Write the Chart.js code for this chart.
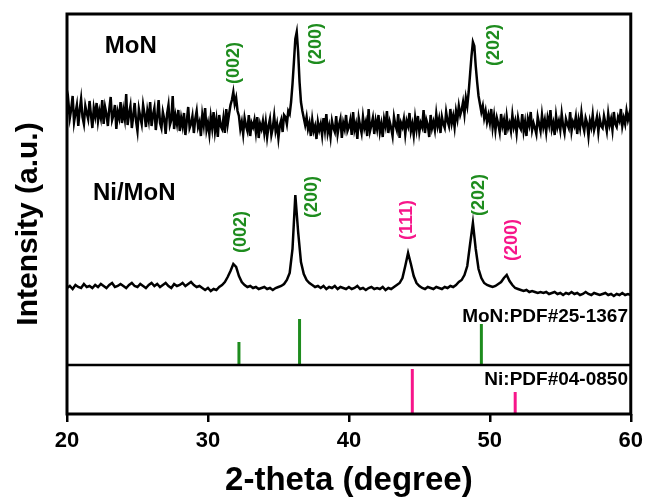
<!DOCTYPE html>
<html>
<head>
<meta charset="utf-8">
<script src="https://cdn.jsdelivr.net/npm/chart.js@4.4.1/dist/chart.umd.min.js"></script>
<style>
  html, body { margin: 0; padding: 0; background: #ffffff; }
  #wrap { width: 649px; height: 503px; }
</style>
</head>
<body>
<div id="wrap"><canvas id="xrd" width="649" height="503"></canvas></div>
<script>
// ---- data (intensity in arbitrary units) ----
const xTicks = [20, 30, 40, 50, 60];

// MoN pattern, 20.0 .. 60.0 deg, 0.1 deg steps
const monStart = 20, monStep = 0.1;
const monIntensity = [
  300, 312, 296, 305, 318, 292, 301, 309, 288, 304, 315, 297, 290, 308, 301, 295, 313, 299, 286, 306,
  298, 311, 293, 303, 296, 314, 290, 307, 300, 288, 305, 317, 294, 299, 309, 285, 302, 296, 312, 291,
  304, 295, 320, 289, 300, 308, 286, 298, 311, 293, 283, 305, 297, 290, 309, 300, 287, 303, 294, 312,
  288, 299, 306, 284, 297, 314, 291, 286, 302, 295, 280, 300, 309, 289, 294, 318, 285, 298, 290, 304,
  283, 296, 288, 301, 279, 293, 307, 286, 290, 298, 281, 295, 303, 287, 292, 278, 299, 289, 306, 284,
  291, 280, 297, 286, 302, 283, 294, 277, 299, 288, 285, 296, 281, 305, 290, 300, 309, 314, 322, 310,
  316, 303, 298, 285, 292, 280, 296, 288, 283, 299, 278, 291, 287, 294, 282, 297, 276, 290, 285, 293,
  281, 292, 277, 288, 295, 279, 286, 298, 283, 290, 276, 289, 294, 282, 299, 297, 290, 303, 300, 312,
  330, 352, 375, 382, 362, 332, 312, 303, 296, 289, 297, 285, 291, 278, 294, 283, 288, 275, 292, 284,
  290, 279, 296, 284, 300, 281, 288, 277, 293, 286, 282, 298, 280, 289, 295, 276, 291, 285, 299, 283,
  287, 294, 279, 302, 284, 290, 275, 296, 288, 281, 297, 286, 292, 278, 305, 283, 289, 296, 280, 293,
  285, 299, 282, 290, 277, 295, 288, 303, 281, 292, 286, 278, 297, 289, 284, 300, 276, 291, 287, 295,
  280, 293, 288, 301, 283, 290, 279, 296, 285, 298, 282, 291, 287, 304, 281, 294, 289, 277, 299, 286,
  292, 284, 300, 288, 295, 281, 297, 290, 286, 302, 293, 288, 305, 291, 298, 287, 303, 295, 308, 299,
  304, 312, 300, 316, 308, 322, 340, 358, 372, 368, 348, 332, 318, 310, 302, 308, 296, 303, 292, 299,
  291, 305, 287, 298, 284, 296, 290, 282, 300, 288, 294, 279, 297, 286, 291, 283, 299, 287, 293, 281,
  296, 288, 285, 300, 283, 292, 278, 295, 289, 302, 284, 291, 286, 280, 297, 290, 283, 299, 287, 294,
  282, 296, 289, 304, 285, 291, 279, 298, 287, 293, 284, 300, 288, 281, 295, 290, 286, 302, 283, 292,
  288, 297, 280, 294, 286, 301, 289, 283, 296, 291, 278, 293, 287, 299, 284, 290, 297, 282, 295, 288,
  286, 298, 291, 283, 300, 289, 295, 284, 302, 290, 287, 297, 293, 305, 288, 296, 290, 303, 294, 300, 292
];

// Ni/MoN pattern, 20.0 .. 60.0 deg, 0.2 deg steps
const niMonStart = 20, niMonStep = 0.2;
const niMonIntensity = [
  126, 128, 125, 129, 127, 126, 130, 127, 128, 126,
  129, 127, 130, 128, 126, 129, 131, 127, 128, 130,
  128, 126, 129, 131, 128, 127, 130, 128, 126, 129,
  131, 128, 130, 127, 129, 131, 128, 126, 130, 128,
  129, 131, 128, 130, 132, 129, 127, 128, 126, 124,
  126, 123, 125, 124, 127, 129, 132, 137, 143, 150,
  147, 138, 132, 129, 127, 128, 126, 127, 125, 126,
  127, 125, 126, 124, 126, 127, 128, 130, 134, 141,
  165, 219, 182, 152, 140, 134, 131, 129, 127, 128,
  126, 128, 125, 127, 126, 128, 125, 127, 126, 125,
  127, 125, 126, 128, 125, 126, 124, 126, 127, 125,
  126, 125, 127, 124, 126, 125, 127, 129, 131, 136,
  148, 161, 150, 138, 131, 128, 126, 125, 127, 126,
  125, 127, 126, 125, 127, 126, 128, 127, 129, 132,
  134, 139, 148, 170, 191, 165, 145, 136, 131, 129,
  128, 127, 128, 130, 132, 136, 139, 133, 129, 126,
  125, 124, 123, 124, 122, 123, 122, 121, 122, 121,
  122, 120, 121, 122, 120, 121, 119, 121, 120, 122,
  120, 121, 119, 120, 122, 120, 119, 121, 120, 119,
  120, 121, 119, 120, 118, 120, 119, 121, 119, 120, 119
];

// standard cards
const monPdfBase = 49;
const monPdfPos = [32.2, 36.5, 49.4];
const monPdfHeight = [23, 46, 41];
const niPdfBase = 0;
const niPdfPos = [44.5, 51.8];
const niPdfHeight = [45, 22];

const GREEN = '#1e8c1e';
const PINK = '#f7168a';

// peak labels: [text, 2theta, intensity, colour]
const peakLabels = [
  ['(002)', 31.85, 351, GREEN],
  ['(200)', 37.66, 370, GREEN],
  ['(202)', 50.28, 369, GREEN],
  ['(002)', 32.34, 182, GREEN],
  ['(200)', 37.38, 217, GREEN],
  ['(111)', 44.11, 194, PINK],
  ['(202)', 49.22, 219, GREEN],
  ['(200)', 51.56, 174, PINK]
];
const sampleLabels = [
  ['MoN', 22.68, 368],
  ['Ni/MoN', 21.84, 221]
];
const cardLabels = [
  ['MoN:PDF#25-1367', 59.8, 97],
  ['Ni:PDF#04-0850', 59.8, 34]
];

const toPoints = (start, step, arr) => arr.map((v, i) => ({ x: +(start + i * step).toFixed(2), y: v }));
const toSticks = (pos, h, base) => {
  const pts = [];
  pos.forEach((p, i) => {
    pts.push({ x: p, y: base }, { x: p, y: base + h[i] }, { x: p, y: null });
  });
  return pts;
};

const FONT = "'Liberation Sans', Arial, sans-serif";
Chart.defaults.font.family = FONT;
Chart.defaults.color = '#000';

const framePlugin = {
  id: 'frame',
  afterDatasetsDraw(chart) {
    const { ctx, chartArea: a, scales } = chart;
    ctx.save();
    // divider between sample patterns and Ni card
    const yDiv = scales.y.getPixelForValue(monPdfBase);
    ctx.strokeStyle = '#000';
    ctx.lineWidth = 2.5;
    ctx.beginPath();
    ctx.moveTo(a.left, yDiv);
    ctx.lineTo(a.right, yDiv);
    ctx.stroke();
    ctx.lineWidth = 3;
    ctx.strokeRect(a.left, a.top, a.right - a.left, a.bottom - a.top);

    const px = v => scales.x.getPixelForValue(v);
    const py = v => scales.y.getPixelForValue(v);

    ctx.font = 'bold 18px ' + FONT;
    ctx.textAlign = 'center';
    ctx.textBaseline = 'middle';
    peakLabels.forEach(([t, x, y, c]) => {
      ctx.save();
      ctx.translate(px(x), py(y));
      ctx.rotate(-Math.PI / 2);
      ctx.fillStyle = c;
      ctx.fillText(t, 0, 0);
      ctx.restore();
    });

    ctx.fillStyle = '#000';
    ctx.font = 'bold 24px ' + FONT;
    ctx.textAlign = 'left';
    sampleLabels.forEach(([t, x, y]) => ctx.fillText(t, px(x), py(y)));

    ctx.font = 'bold 19px ' + FONT;
    ctx.textAlign = 'right';
    cardLabels.forEach(([t, x, y]) => ctx.fillText(t, px(x), py(y)));

    // y axis title
    ctx.save();
    ctx.translate(29, (a.top + a.bottom) / 2 + 10);
    ctx.rotate(-Math.PI / 2);
    ctx.textAlign = 'center';
    ctx.font = 'bold 30px ' + FONT;
    ctx.fillText('Intensity (a.u.)', 0, 0);
    ctx.restore();
    ctx.restore();
  }
};

new Chart(document.getElementById('xrd'), {
  type: 'line',
  data: {
    datasets: [
      {
        label: 'MoN',
        data: toPoints(monStart, monStep, monIntensity),
        borderColor: '#000',
        borderWidth: 2.5,
        pointRadius: 0,
        tension: 0
      },
      {
        label: 'Ni/MoN',
        data: toPoints(niMonStart, niMonStep, niMonIntensity),
        borderColor: '#000',
        borderWidth: 2.5,
        pointRadius: 0,
        tension: 0
      },
      {
        label: 'MoN PDF#25-1367',
        data: toSticks(monPdfPos, monPdfHeight, monPdfBase),
        borderColor: GREEN,
        borderWidth: 3,
        pointRadius: 0,
        spanGaps: false
      },
      {
        label: 'Ni PDF#04-0850',
        data: toSticks(niPdfPos, niPdfHeight, niPdfBase),
        borderColor: PINK,
        borderWidth: 3,
        pointRadius: 0,
        spanGaps: false
      }
    ]
  },
  options: {
    responsive: false,
    animation: false,
    parsing: false,
    layout: { padding: { left: 0, top: 14, right: 18, bottom: 0 } },
    plugins: {
      legend: { display: false },
      tooltip: { enabled: false }
    },
    scales: {
      x: {
        type: 'linear',
        min: 20,
        max: 60,
        afterFit: s => { s.height = 89; },
        afterBuildTicks: s => { s.ticks = xTicks.map(v => ({ value: v })); },
        border: { display: false },
        grid: {
          drawOnChartArea: false,
          drawTicks: true,
          tickLength: 8,
          color: '#000',
          lineWidth: 2.5
        },
        ticks: {
          padding: 6,
          maxRotation: 0,
          font: { size: 22, weight: 'bold' },
          color: '#000'
        },
        title: {
          display: true,
          text: '2-theta (degree)',
          font: { size: 33, weight: 'bold' },
          color: '#000',
          padding: { top: 0, bottom: 2 }
        }
      },
      y: {
        type: 'linear',
        min: 0,
        max: 400,
        afterFit: s => { s.width = 67; },
        border: { display: false },
        grid: { display: false },
        ticks: { display: false },
        title: { display: false }
      }
    }
  },
  plugins: [framePlugin]
});
</script>
</body>
</html>
